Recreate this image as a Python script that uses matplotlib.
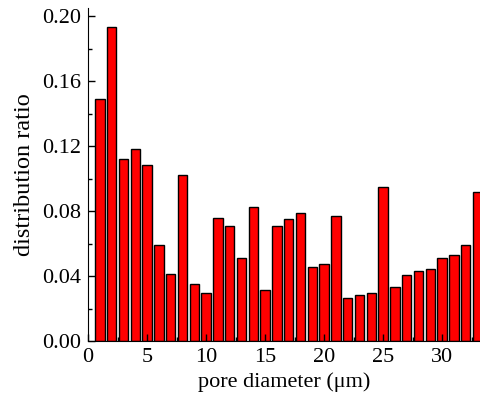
import numpy as np
import matplotlib.pyplot as plt
from matplotlib.ticker import MultipleLocator

plt.rcParams['font.family'] = ['Liberation Serif', 'DejaVu Serif']

# pore size bins (um) and their fraction of the total
pore_diameter = np.arange(1, 34)
ratio = [0.1487, 0.1931, 0.1122, 0.1183, 0.1085, 0.0590, 0.0413, 0.1024,
         0.0354, 0.0293, 0.0758, 0.0710, 0.0513, 0.0827, 0.0314, 0.0710,
         0.0750, 0.0788, 0.0455, 0.0471, 0.0769, 0.0264, 0.0285, 0.0293,
         0.0945, 0.0335, 0.0404, 0.0433, 0.0444, 0.0513, 0.0530, 0.0590,
         0.0915]

fig = plt.figure(figsize=(4.81, 3.97), dpi=100)
ax = fig.add_axes([0.183, 0.141, 0.817, 0.839])

ax.bar(pore_diameter, ratio, width=0.8, color='#ff0000', edgecolor='black',
       linewidth=1.0)

ax.set_xlim(0, 33.3)
ax.set_ylim(0, 0.205)
ax.xaxis.set_major_locator(MultipleLocator(5))
ax.xaxis.set_minor_locator(MultipleLocator(2.5))
ax.yaxis.set_major_locator(MultipleLocator(0.04))
ax.yaxis.set_minor_locator(MultipleLocator(0.02))
ax.yaxis.set_major_formatter(plt.FormatStrFormatter('%.2f'))

ax.spines['top'].set_visible(False)
ax.spines['right'].set_visible(False)
ax.tick_params(which='both', direction='in', labelsize=16, width=1)
ax.tick_params(which='major', length=5)
ax.tick_params(axis='x', which='major', pad=5)
ax.tick_params(axis='y', which='major', pad=5)
ax.tick_params(which='minor', length=3)

ax.set_xlabel('pore diameter (μm)', fontsize=16, labelpad=4)
ax.set_ylabel('distribution ratio', fontsize=17.5, labelpad=5)

fig.savefig('out.png', dpi=100)
